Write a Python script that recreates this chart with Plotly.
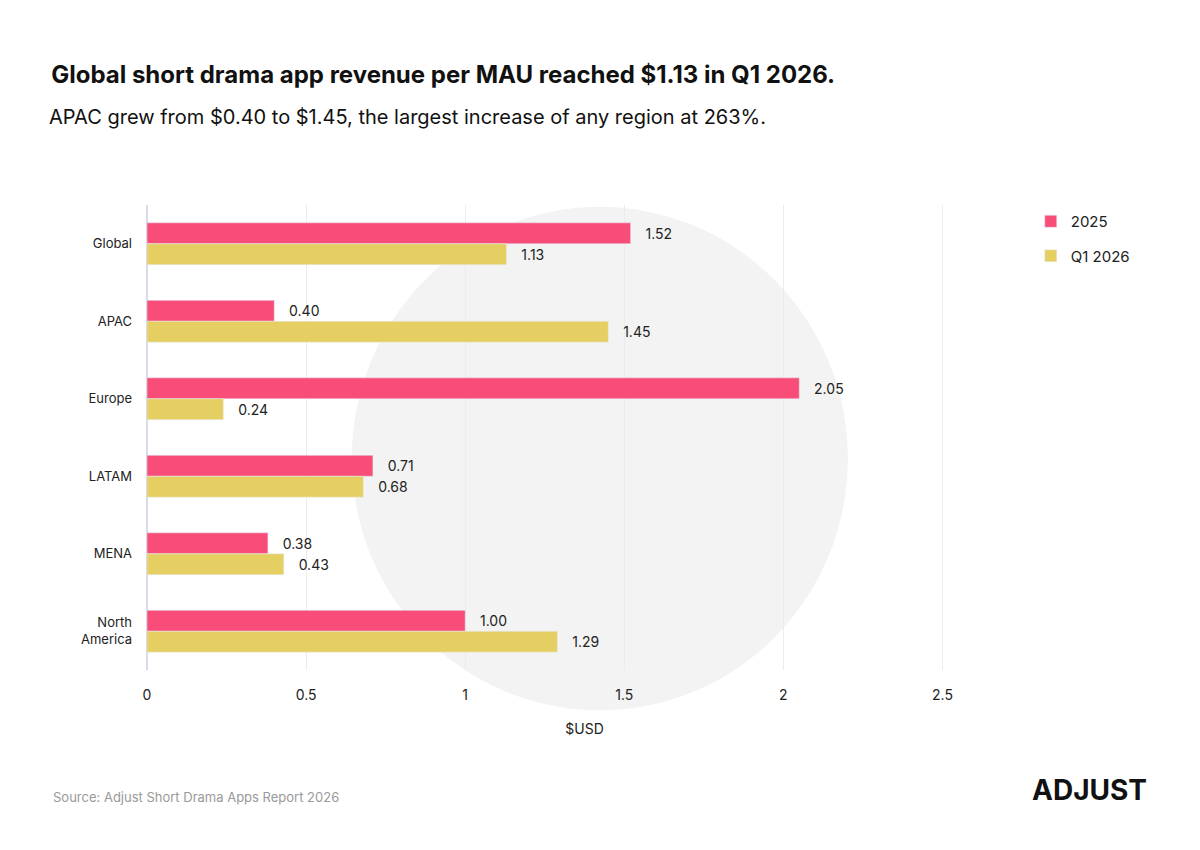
import plotly.graph_objects as go

regions = ["Global", "APAC", "Europe", "LATAM", "MENA", "North<br>America"]
v2025 = [1.52, 0.40, 2.05, 0.71, 0.38, 1.00]
vq1 = [1.13, 1.45, 0.24, 0.68, 0.43, 1.29]
xticks = [0, 0.5, 1, 1.5, 2, 2.5]

font = "Inter, Lato, sans-serif"
fig = go.Figure()
fig.add_trace(go.Bar(name="2025", y=regions, x=v2025, orientation="h", legendgroup="a",
                     marker_color="#f74d78", text=[f"   {v:.2f}" for v in v2025],
                     textposition="outside", textfont=dict(size=14, color="#222"),
                     cliponaxis=False))
fig.add_trace(go.Bar(name="Q1 2026", y=regions, x=vq1, orientation="h", legendgroup="b",
                     marker_color="#e6cf62", text=[f"   {v:.2f}" for v in vq1],
                     textposition="outside", textfont=dict(size=14, color="#222"),
                     cliponaxis=False))

fig.add_shape(type="circle", xref="paper", yref="paper", layer="below",
              x0=0.234, x1=0.801, y0=-0.087, y1=0.996,
              fillcolor="#f3f3f3", line_width=0)

fig.update_layout(
    width=1200, height=850, barmode="group", bargap=0.46, bargroupgap=0,
    plot_bgcolor="white", paper_bgcolor="white",
    font=dict(family=font, color="#222"),
    margin=dict(l=139, r=186, t=197, b=188, autoexpand=False),
    title=dict(text="<b>Global short drama app revenue per MAU reached $1.13 in Q1 2026.</b>",
               x=0.036, xanchor="left", y=0.931, yanchor="top", font=dict(size=24, color="#111")),
    xaxis=dict(range=[0, 2.75], tickvals=xticks, ticktext=[str(t) for t in xticks], automargin=False,
               showgrid=True, gridcolor="#ececec", zeroline=True, zerolinecolor="#d8dce8",
               zerolinewidth=2, tickfont=dict(size=14), ticklabelstandoff=15,
               title=dict(text="$USD", font=dict(size=14), standoff=22)),
    yaxis=dict(autorange="reversed", tickfont=dict(size=13), ticks="", ticklabelstandoff=14, automargin=False),
    legend=dict(x=1.01, y=1.0, xanchor="left", yanchor="top", font=dict(size=15),
                itemwidth=30, tracegroupgap=12, traceorder="grouped"),
)
fig.add_annotation(text="APAC grew from $0.40 to $1.45, the largest increase of any region at 263%.",
                   xref="paper", yref="paper", x=-0.114, y=1.189, xanchor="left", yanchor="middle",
                   showarrow=False, font=dict(size=20, color="#111"))
fig.add_annotation(text="Source: Adjust Short Drama Apps Report 2026", xref="paper", yref="paper",
                   x=-0.11, y=-0.294, xanchor="left", showarrow=False,
                   font=dict(size=13, color="#999"))
fig.add_annotation(text="<b>ADJUST</b>", xref="paper", yref="paper", x=1.145, y=-0.298,
                   xanchor="right", showarrow=False, font=dict(size=28, color="#111"))
fig.write_html("out.html")
